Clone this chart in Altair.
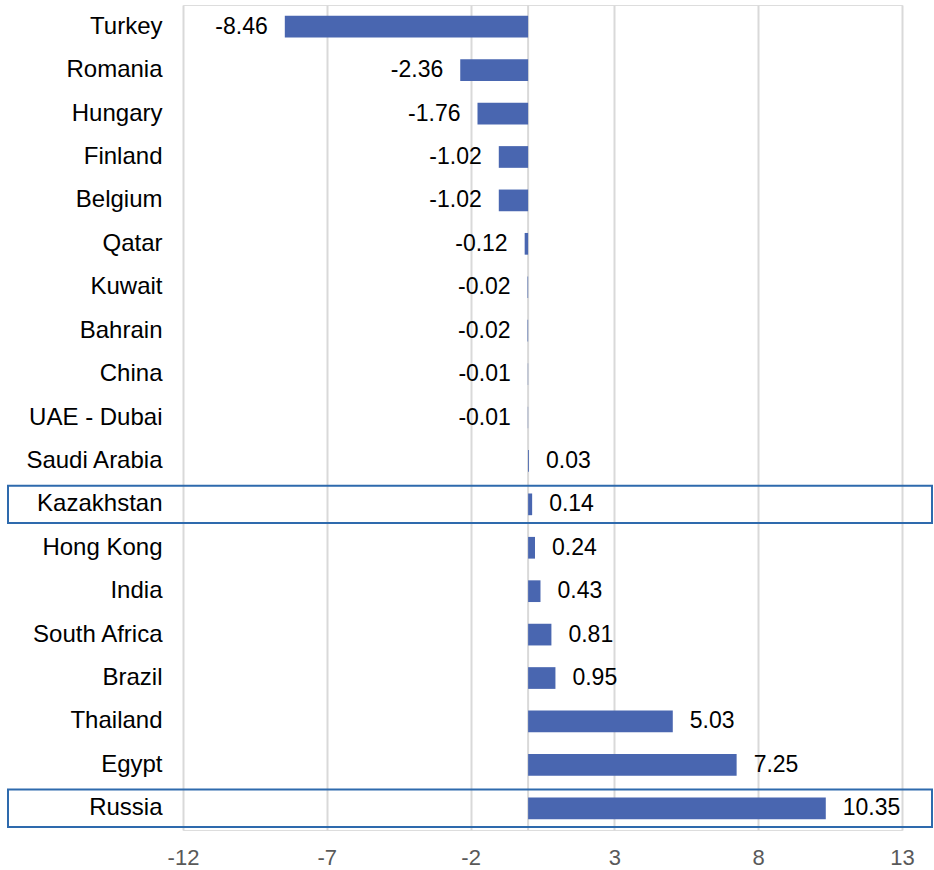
import altair as alt
import pandas as pd

countries = ["Turkey", "Romania", "Hungary", "Finland", "Belgium", "Qatar", "Kuwait",
             "Bahrain", "China", "UAE - Dubai", "Saudi Arabia", "Kazakhstan", "Hong Kong",
             "India", "South Africa", "Brazil", "Thailand", "Egypt", "Russia"]
values = [-8.46, -2.36, -1.76, -1.02, -1.02, -0.12, -0.02, -0.02, -0.01, -0.01,
          0.03, 0.14, 0.24, 0.43, 0.81, 0.95, 5.03, 7.25, 10.35]
highlighted = ["Kazakhstan", "Russia"]
x_ticks = [-12, -7, -2, 3, 8, 13]

df = pd.DataFrame({"country": countries, "value": values})
df["label"] = df["value"].map(lambda v: f"{v:.2f}")
hl = pd.DataFrame({"country": highlighted})

FONT = "Liberation Sans"
BAR = "#4966B0"
FS = 23

y_enc = alt.Y("country:N", sort=countries, title=None,
              scale=alt.Scale(paddingInner=0.5, paddingOuter=0.25),
              axis=alt.Axis(ticks=False, domain=False, labelPadding=21,
                            labelFontSize=24, labelColor="#000000", labelFont=FONT,
                            grid=False))
x_enc = alt.X("value:Q", title=None,
              scale=alt.Scale(domain=[-12, 13], nice=False, zero=False),
              axis=alt.Axis(values=x_ticks, ticks=False, domain=False, grid=True,
                            gridColor="#d9d9d9", gridWidth=2, labelFontSize=22,
                            labelColor="#595959", labelFont=FONT, labelPadding=17,
                            labelFlush=False, labelOverlap=False,
                            labelExpr="'' + datum.value"))

base = alt.Chart(df)

bars = base.mark_bar(color=BAR, height={"band": 1}).encode(
    y=y_enc, x=x_enc, x2=alt.datum(0)
)

zero_line = alt.Chart(pd.DataFrame({"z": [0]})).mark_rule(
    color="#d9d9d9", strokeWidth=2
).encode(x=alt.X("z:Q"))

neg_text = base.transform_filter("datum.value < 0").mark_text(
    align="right", baseline="middle", dx=-17, fontSize=FS, font=FONT, color="#000000"
).encode(y=alt.Y("country:N", sort=countries), x="value:Q", text="label:N")

pos_text = base.transform_filter("datum.value >= 0").mark_text(
    align="left", baseline="middle", dx=17, fontSize=FS, font=FONT, color="#000000"
).encode(y=alt.Y("country:N", sort=countries), x="value:Q", text="label:N")

boxes = alt.Chart(hl).mark_rect(
    filled=False, stroke="#2E6AAD", strokeWidth=2, height={"band": 1.72}
).encode(
    y=alt.Y("country:N", sort=countries),
    x=alt.value(-175), x2=alt.value(749)
)

chart = alt.layer(zero_line, bars, neg_text, pos_text, boxes).properties(
    width=719, height=825,
    autosize=alt.AutoSizeParams(type="none"),
    padding={"left": 183, "top": 5, "right": 32, "bottom": 40},
).configure_view(stroke=None).configure(font=FONT)

chart.save("out.html", embed_options={"renderer": "svg", "actions": False})
